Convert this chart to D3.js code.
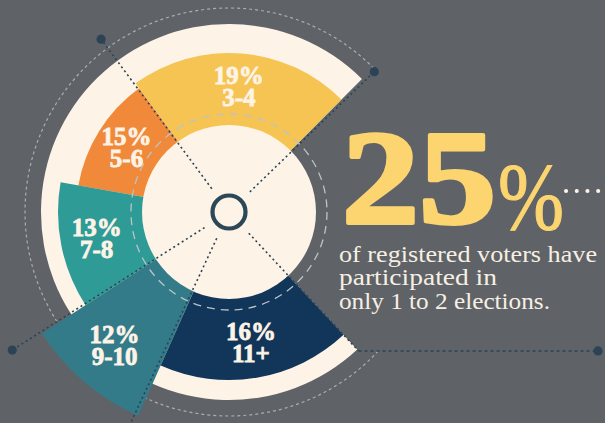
<!DOCTYPE html>
<html><head><meta charset="utf-8">
<script src="https://cdn.jsdelivr.net/npm/d3@7/dist/d3.min.js"></script>
<style>html,body{margin:0;padding:0;background:#5f6367;overflow:hidden}</style>
</head><body>
<svg id="c" width="605" height="423"></svg>
<script>
// ---- data ----
const categories = ["3-4", "5-6", "7-8", "9-10", "11+"];
const shares = [19, 15, 13, 12, 16];
const arcDegrees = [81, 44, 43, 33, 67];   // angular width of each wedge as drawn
const reach = [72, 66, 84, 136, 81];        // radial extent of each wedge (chart units)
const headline = "25";
const caption = ["of registered voters have", "participated in", "only 1 to 2 elections."];

const colors = ["#f5c453", "#f0893a", "#2f9b97", "#347b89", "#12355a"];
const cream = "#fdf3e7", bg = "#5f6367", slate = "#2b4354";

const W = 605, H = 423, cx = 229, cy = 212;
const deg = d => d * Math.PI / 180;
const hub = 87, rim = 188;
const rScale = d3.scaleLinear().domain([0, 100]).range([hub, 187]);

const svg = d3.select("#c");
svg.append("rect").attr("width", W).attr("height", H).attr("fill", bg);
const g = svg.append("g").attr("transform", `translate(${cx},${cy})`);

// outer dotted guide circle
const pOuter = d3.path();
pOuter.arc(0, 0, 204, deg(133 - 90), deg(406 - 90), false);
g.append("path").attr("d", pOuter.toString()).attr("fill", "none")
  .attr("stroke", "#a9adb0").attr("stroke-width", 1.2).attr("stroke-dasharray", "3,3");

const total = d3.sum(arcDegrees);
const startA = 405, endA = 405 - total;

// cream backing band
g.append("path").attr("fill", cream)
  .attr("d", d3.arc().innerRadius(hub - 2).outerRadius(rim)({startAngle: deg(endA), endAngle: deg(startA)}));

const pie = d3.pie().sort(null).value((d, i) => arcDegrees[i])
  .startAngle(deg(startA)).endAngle(deg(endA));
const arcs = pie(categories);
const arcGen = d3.arc().innerRadius(hub - 2).outerRadius((d) => rScale(reach[d.index]));

g.selectAll("path.seg").data(arcs).join("path").attr("class", "seg")
  .attr("d", arcGen).attr("fill", (d, i) => colors[i]);

// inner cream disc
g.append("circle").attr("r", hub).attr("fill", cream);

// dashed circle
g.append("circle").attr("r", 98).attr("fill", "none")
  .attr("stroke", "#bcc3c9").attr("stroke-width", 1.3).attr("stroke-dasharray", "8,6");

// dotted rays with dots
const rays = [[-36.5, 215], [46, 202], [-122.5, 257], [-155, 262]];
rays.forEach(([a, r]) => {
  const s = Math.sin(deg(a)), c = -Math.cos(deg(a));
  g.append("line").attr("x1", 29 * s).attr("y1", 29 * c).attr("x2", r * s).attr("y2", r * c)
    .attr("stroke", slate).attr("stroke-width", 1.6).attr("stroke-dasharray", "2,3");
  g.append("circle").attr("cx", r * s).attr("cy", r * c).attr("r", 4.6).attr("fill", slate);
});
{
  const a = 137, r = 190;
  const s = Math.sin(deg(a)), c = -Math.cos(deg(a));
  g.append("line").attr("x1", 29 * s).attr("y1", 29 * c).attr("x2", r * s).attr("y2", r * c)
    .attr("stroke", slate).attr("stroke-width", 1.6).attr("stroke-dasharray", "2,3");
  g.append("line").attr("x1", r * s).attr("y1", r * c).attr("x2", 598 - cx).attr("y2", r * c)
    .attr("stroke", slate).attr("stroke-width", 1.4).attr("stroke-dasharray", "3,3");
  g.append("circle").attr("cx", 598 - cx).attr("cy", r * c).attr("r", 4.6).attr("fill", slate);
}

// centre ring
g.append("circle").attr("r", 16.5).attr("fill", "none").attr("stroke", "#2c4757").attr("stroke-width", 4.2);

// labels
const serif = "'Liberation Serif', 'DejaVu Serif', serif";
arcs.forEach((d, i) => {
  const mid = (d.startAngle + d.endAngle) / 2;
  const r = rScale(reach[i]) * 0.79;
  const x = r * Math.sin(mid), y = -r * Math.cos(mid);
  const t = g.append("text").attr("text-anchor", "middle").attr("fill", cream)
    .attr("font-family", serif).attr("font-weight", "bold").attr("font-size", 25)
    .attr("stroke", cream).attr("stroke-width", 0.8);
  t.append("tspan").attr("x", x).attr("y", y - 3).text(shares[i] + "%");
  t.append("tspan").attr("x", x).attr("y", y + 19).text(categories[i]);
});

// headline
svg.append("text").attr("x", 342).attr("y", 223).attr("fill", "#fcd570")
  .attr("font-family", serif).attr("font-weight", "bold").attr("font-size", 133)
  .attr("stroke", "#fcd570").attr("stroke-width", 4).attr("stroke-linejoin", "round")
  .attr("textLength", 154).attr("lengthAdjust", "spacingAndGlyphs").text(headline);
svg.append("text").attr("x", 498).attr("y", 229).attr("fill", "#fcd570")
  .attr("font-family", serif).attr("font-size", 95)
  .attr("stroke", "#fcd570").attr("stroke-width", 1.2)
  .attr("textLength", 66).attr("lengthAdjust", "spacingAndGlyphs").text("%");

// little dotted tail
svg.append("line").attr("x1", 566).attr("y1", 191).attr("x2", 606).attr("y2", 191)
  .attr("stroke", cream).attr("stroke-width", 4).attr("stroke-linecap", "round")
  .attr("stroke-dasharray", "0.1,10.6");

// caption
const capW = [258, 158, 211];
caption.forEach((line, i) => {
  svg.append("text").attr("x", 339).attr("y", 262 + i * 23.3).attr("fill", "#f7efe3")
    .attr("font-family", serif).attr("font-size", 22.5)
    .attr("textLength", capW[i]).attr("lengthAdjust", "spacingAndGlyphs").text(line);
});
</script>
</body></html>
